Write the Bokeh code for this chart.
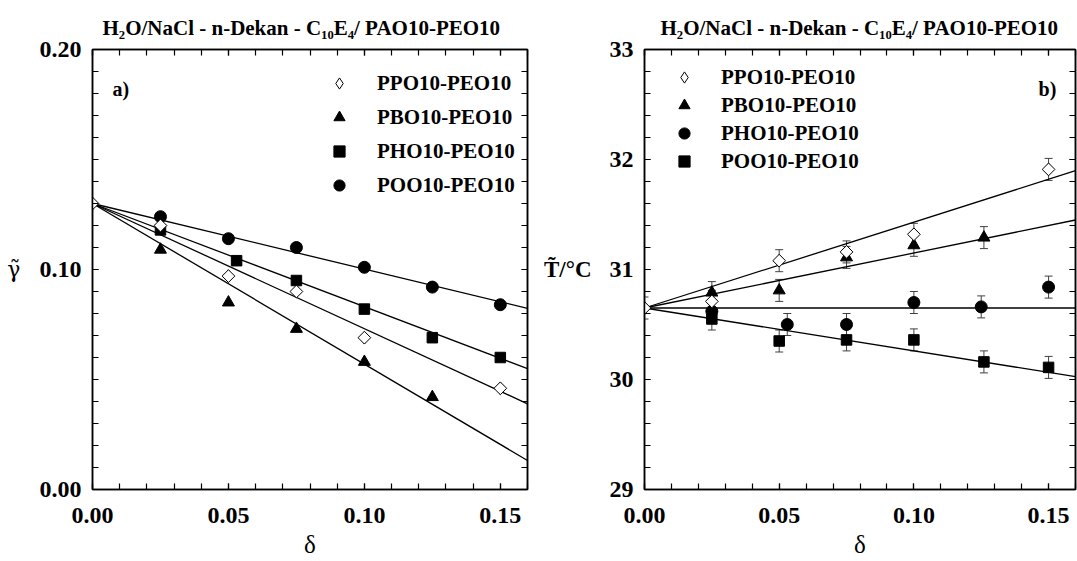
import math
from bokeh.plotting import figure
from bokeh.layouts import row
from bokeh.models import (Range1d, LinearAxis, FixedTicker, Label, Legend, LegendItem,
                          Whisker, ColumnDataSource, TeeHead, NumeralTickFormatter, Title)
from bokeh.embed import file_html
from bokeh.resources import INLINE

# ---------------- data ----------------
# panel a) : gamma~ vs delta
a_ppo_x = [0.025, 0.05, 0.075, 0.10, 0.15]
a_ppo_y = [0.120, 0.097, 0.090, 0.069, 0.046]
a_pbo_x = [0.025, 0.05, 0.075, 0.10, 0.125]
a_pbo_y = [0.109, 0.085, 0.073, 0.058, 0.042]
a_pho_x = [0.025, 0.053, 0.075, 0.10, 0.125, 0.15]
a_pho_y = [0.118, 0.104, 0.095, 0.082, 0.069, 0.060]
a_poo_x = [0.025, 0.05, 0.075, 0.10, 0.125, 0.15]
a_poo_y = [0.124, 0.114, 0.110, 0.101, 0.092, 0.084]
a_origin_x = [0.0]
a_origin_y = [0.130]
a_fit_intercept = 0.130
a_fit_slopes = {"PPO": -0.569, "PBO": -0.730, "PHO": -0.469, "POO": -0.298}

# panel b) : T~ vs delta
b_ppo_x = [0.025, 0.05, 0.075, 0.10, 0.15]
b_ppo_y = [30.71, 31.08, 31.16, 31.32, 31.91]
b_pbo_x = [0.025, 0.05, 0.075, 0.10, 0.126]
b_pbo_y = [30.79, 30.81, 31.11, 31.22, 31.29]
b_pho_x = [0.025, 0.053, 0.075, 0.10, 0.125, 0.15]
b_pho_y = [30.62, 30.50, 30.50, 30.70, 30.66, 30.84]
b_poo_x = [0.025, 0.05, 0.075, 0.10, 0.126, 0.15]
b_poo_y = [30.55, 30.35, 30.36, 30.36, 30.16, 30.11]
b_origin_x = [0.0]
b_origin_y = [30.65]
b_err = 0.10
b_fit_intercept = 30.65
b_fit_slopes = {"PPO": 7.8, "PBO": 5.0, "PHO": 0.0, "POO": -3.9}

x_ticks = [0.00, 0.05, 0.10, 0.15]
a_y_ticks = [0.00, 0.10, 0.20]
b_y_ticks = [29, 30, 31, 32, 33]

names = ["PPO10-PEO10", "PBO10-PEO10", "PHO10-PEO10", "POO10-PEO10"]
title_text = "H\u2082O/NaCl - n-Dekan - C\u2081\u2080E\u2084/ PAO10-PEO10"
x_label = "\u03b4"
a_y_label = "\u03b3\u0303"
b_y_label = "T\u0303/\u00b0C"

# ---------------- geometry / style ----------------
FONT = "Liberation Serif"
X0, X1 = 0.0, 0.16
FRAME_TOP, FRAME_BOT = 49, 489
P1_LEFT, P1_RIGHT = 92, 527
P2_OFF = 540
P2_LEFT, P2_RIGHT = 643, 1075

minor_x = [round(i * 0.01, 2) for i in range(0, 17)]
minor_ya = [round(i * 0.01, 2) for i in range(0, 21)]
minor_yb = [round(29 + i * 0.2, 1) for i in range(0, 21)]


def make_fig(width, left, right, yr, yticks, yminor, yfmt, ylabel, ylfont, ylstyle, ylsize,
             ystandoff, toff):
    p = figure(width=width, height=561, output_backend="svg", toolbar_location=None,
               x_range=Range1d(X0, X1), y_range=Range1d(*yr),
               min_border_left=left, min_border_right=right,
               min_border_top=FRAME_TOP, min_border_bottom=561 - FRAME_BOT)
    p.xaxis.visible = False
    p.yaxis.visible = False
    p.grid.visible = False
    p.outline_line_color = "black"
    p.outline_line_width = 1.5
    p.background_fill_color = "white"
    p.border_fill_color = "white"
    xt = FixedTicker(ticks=x_ticks, minor_ticks=minor_x)
    yt = FixedTicker(ticks=yticks, minor_ticks=yminor)
    for loc, tick, fmt in [("below", xt, "0.00"), ("above", xt, "0.00"),
                           ("left", yt, yfmt), ("right", yt, yfmt)]:
        ax = LinearAxis(ticker=tick, formatter=NumeralTickFormatter(format=fmt))
        ax.axis_line_color = "black"
        ax.axis_line_width = 1.5
        ax.major_tick_in = 6
        ax.major_tick_out = 0
        ax.minor_tick_in = 6
        ax.minor_tick_out = 0
        ax.major_tick_line_color = "black"
        ax.minor_tick_line_color = "black"
        ax.major_tick_line_width = 1.2
        ax.minor_tick_line_width = 1.2
        if loc in ("below", "left"):
            ax.major_label_text_font = FONT
            ax.major_label_text_font_style = "bold"
            ax.major_label_text_font_size = "24px"
            ax.major_label_text_color = "black"
            ax.major_label_standoff = 18 if loc == "below" else 11
            ax.axis_label_text_color = "black"
            if loc == "below":
                ax.axis_label = x_label
                ax.axis_label_text_font = FONT
                ax.axis_label_text_font_style = "normal"
                ax.axis_label_text_font_size = "25px"
                ax.axis_label_standoff = 5
            else:
                ax.axis_label = ylabel
                ax.axis_label_text_font = ylfont
                ax.axis_label_text_font_style = ylstyle
                ax.axis_label_text_font_size = ylsize
                ax.axis_label_standoff = ystandoff
                try:
                    ax.axis_label_orientation = "horizontal"
                except Exception:
                    pass
        else:
            ax.major_label_text_font_size = "0px"
            ax.major_label_standoff = 0
            ax.major_label_text_alpha = 0
        p.add_layout(ax, loc)
    t = Title(text=title_text, align="left", offset=toff, text_font=FONT,
              text_font_style="bold", text_font_size="21px", text_color="black",
              standoff=19, text_line_height=0.8)
    p.add_layout(t, "above")
    return p


p1 = make_fig(540, P1_LEFT, 540 - P1_RIGHT, (0.0, 0.20), a_y_ticks, minor_ya, "0.00",
              a_y_label, "DejaVu Serif", "normal", "22px", 16, 10)
p2 = make_fig(537, P2_LEFT - P2_OFF, P2_OFF + 537 - P2_RIGHT, (29.0, 33.0), b_y_ticks,
              minor_yb, "0", b_y_label, FONT, "bold", "23px", 15, 16)


def to_data_a(sx, sy):
    return ((sx - P1_LEFT) / (P1_RIGHT - P1_LEFT) * (X1 - X0),
            (FRAME_BOT - sy) / (FRAME_BOT - FRAME_TOP) * 0.20)


def to_data_b(sx, sy):
    return ((sx - P2_LEFT) / (P2_RIGHT - P2_LEFT) * (X1 - X0),
            29.0 + (FRAME_BOT - sy) / (FRAME_BOT - FRAME_TOP) * 4.0)


def lab(p, conv, sx, sy, text, size, style="bold", align="left", baseline="alphabetic"):
    x, y = conv(sx, sy)
    p.add_layout(Label(x=x, y=y, text=text, text_font=FONT, text_font_style=style,
                       text_font_size=f"{size}px", text_align=align,
                       text_baseline=baseline, text_color="black"))


def legend(items, loc, gh, standoff):
    return Legend(items=items, location=loc, glyph_width=28, glyph_height=gh, label_height=gh,
                  spacing=0, padding=0, margin=0, label_standoff=standoff,
                  border_line_alpha=0, background_fill_alpha=0, label_text_color="black",
                  label_text_font=FONT, label_text_font_style="bold", label_text_font_size="21px")


def diamonds(p, xs, ys):
    # narrow diamond (used for the legend), covered by a 45-degree square of equal height
    r = p.scatter(xs, ys, marker="diamond", size=12.5, fill_color="white", line_color="black",
                  line_width=1)
    p.scatter(xs, ys, marker="square", angle=math.pi / 4, size=9, fill_color="white",
              line_color="black", line_width=1)
    return r


# ---------------- panel a ----------------
fx = [X0, X1]
for key in ["POO", "PHO", "PBO", "PPO"]:
    s = a_fit_slopes[key]
    p1.line(fx, [a_fit_intercept + s * v for v in fx], line_color="black", line_width=1.3)

r_a_poo = p1.scatter(a_poo_x, a_poo_y, marker="circle", size=12, fill_color="black", line_color="black")
r_a_pho = p1.scatter(a_pho_x, a_pho_y, marker="square", size=10.5, fill_color="black", line_color="black")
r_a_pbo = p1.scatter(a_pbo_x, a_pbo_y, marker="triangle", size=12, fill_color="black", line_color="black")
r_a_ppo = diamonds(p1, a_ppo_x, a_ppo_y)
diamonds(p1, a_origin_x, a_origin_y)

p1.add_layout(legend([LegendItem(label=names[0], renderers=[r_a_ppo]),
                      LegendItem(label=names[1], renderers=[r_a_pbo]),
                      LegendItem(label=names[2], renderers=[r_a_pho]),
                      LegendItem(label=names[3], renderers=[r_a_poo])], (233, 287), 34, 24))
lab(p1, to_data_a, 112, 88, "a)", 20)

# ---------------- panel b ----------------
for key in ["POO", "PHO", "PBO", "PPO"]:
    s = b_fit_slopes[key]
    p2.line(fx, [b_fit_intercept + s * v for v in fx], line_color="black", line_width=1.3)

for xs, ys in [(b_origin_x, b_origin_y), (b_ppo_x, b_ppo_y), (b_pbo_x, b_pbo_y),
               (b_pho_x, b_pho_y), (b_poo_x, b_poo_y)]:
    src = ColumnDataSource(dict(x=xs, lo=[v - b_err for v in ys], hi=[v + b_err for v in ys]))
    p2.add_layout(Whisker(source=src, base="x", lower="lo", upper="hi",
                          line_color="#404040", line_width=1,
                          upper_head=TeeHead(size=8, line_color="#404040", line_width=1),
                          lower_head=TeeHead(size=8, line_color="#404040", line_width=1)))

r_b_poo = p2.scatter(b_poo_x, b_poo_y, marker="square", size=10.5, fill_color="black", line_color="black")
r_b_pho = p2.scatter(b_pho_x, b_pho_y, marker="circle", size=12, fill_color="black", line_color="black")
r_b_pbo = p2.scatter(b_pbo_x, b_pbo_y, marker="triangle", size=12, fill_color="black", line_color="black")
r_b_ppo = diamonds(p2, b_ppo_x, b_ppo_y)
diamonds(p2, b_origin_x, b_origin_y)

p2.add_layout(legend([LegendItem(label=names[0], renderers=[r_b_ppo]),
                      LegendItem(label=names[1], renderers=[r_b_pbo]),
                      LegendItem(label=names[2], renderers=[r_b_pho]),
                      LegendItem(label=names[3], renderers=[r_b_poo])], (26, 314), 28, 23))
lab(p2, to_data_b, 1038, 88, "b)", 20)

layout = row(p1, p2)
open("out.html", "w").write(file_html(layout, INLINE))
